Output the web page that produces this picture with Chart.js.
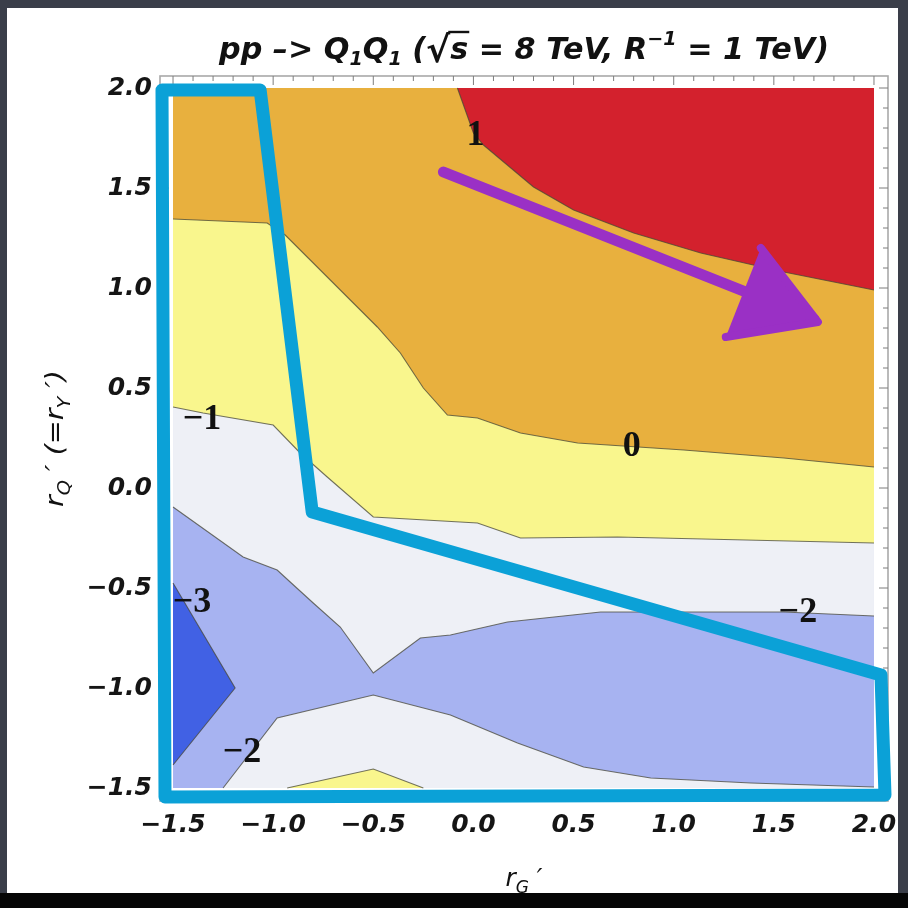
<!DOCTYPE html>
<html>
<head>
<meta charset="utf-8">
<script src="https://cdn.jsdelivr.net/npm/chart.js@4.4.0/dist/chart.umd.min.js"></script>
<style>
  html, body { margin: 0; padding: 0; width: 908px; height: 908px; overflow: hidden; background: #3a3e49; }
  #panel { position: absolute; left: 7px; top: 8px; width: 891px; height: 885px; background: #ffffff; }
  #foot { position: absolute; left: 0; top: 893px; width: 908px; height: 15px; background: #060606; }
  #plot { position: absolute; left: 0; top: 0; }
</style>
</head>
<body>
<div id="panel"></div>
<div id="foot"></div>
<canvas id="plot" width="908" height="908"></canvas>
<script>
// ---- axis values -------------------------------------------------------
const tickValues = [-1.5, -1.0, -0.5, 0.0, 0.5, 1.0, 1.5, 2.0];
const dataExtent = [-1.5, 2.0];          // range covered by the contour data
const xFrame = [-1.565, 2.07];           // frame range (with padding)
const yFrame = [-1.565, 2.06];

// ---- contour lines, [rG', rQ'] pairs ------------------------------------
const contourPlus1 = [[-0.08, 2.0], [0.0, 1.775], [0.05, 1.715], [0.30, 1.505], [0.50, 1.39],
  [0.80, 1.275], [1.135, 1.175], [1.55, 1.08], [2.0, 0.99]];
const contourZero = [[-1.5, 1.345], [-1.03, 1.325], [-0.94, 1.265], [-0.48, 0.805], [-0.365, 0.675],
  [-0.25, 0.50], [-0.13, 0.365], [0.02, 0.35], [0.235, 0.275], [0.52, 0.225], [1.05, 0.19],
  [1.55, 0.15], [2.0, 0.105]];
const contourMinus1 = [[-1.5, 0.405], [-1.35, 0.375], [-1.0, 0.315], [-0.865, 0.175], [-0.73, 0.055],
  [-0.5, -0.145], [0.02, -0.175], [0.235, -0.25], [0.72, -0.245], [2.0, -0.275]];
const contourMinus1Low = [[-0.93, -1.5], [-0.5, -1.405], [-0.25, -1.5]];
const contourMinus2 = [[-1.5, -0.095], [-1.15, -0.345], [-0.98, -0.41], [-0.915, -0.47], [-0.80, -0.575],
  [-0.665, -0.695], [-0.5, -0.925], [-0.265, -0.75], [-0.115, -0.735], [0.17, -0.67], [0.635, -0.62],
  [1.55, -0.62], [2.0, -0.64]];
const contourMinus2Low = [[-1.25, -1.5], [-0.98, -1.15], [-0.5, -1.035], [-0.115, -1.135], [0.22, -1.275],
  [0.55, -1.395], [0.885, -1.45], [1.385, -1.475], [2.0, -1.495]];
const contourMinus3 = [[-1.5, -0.475], [-1.19, -1.0], [-1.5, -1.385]];

// ---- contour level labels -----------------------------------------------
const contourLabels = [
  { text: '1', x: 0.01, y: 1.775 },
  { text: '0', x: 0.79, y: 0.22 },
  { text: '\u22121', x: -1.355, y: 0.355 },
  { text: '\u22122', x: 1.62, y: -0.61 },
  { text: '\u22123', x: -1.405, y: -0.56 },
  { text: '\u22122', x: -1.155, y: -1.31 }
];

// ---- hand-drawn annotations ----------------------------------------------
const highlightOutline = [[-1.555, 1.99], [-1.065, 1.99], [-0.805, -0.12], [2.035, -0.935],
  [2.055, -1.535], [-1.54, -1.545], [-1.555, 1.99]];
const arrowShaft = [[-0.15, 1.58], [1.70, 0.845]];
const arrowHead = [[1.435, 1.2], [1.72, 0.83], [1.26, 0.755]];

// ---- styling --------------------------------------------------------------
const bandColors = {
  above1: '#d3212d',
  from0to1: '#e8b03e',
  fromM1to0: '#f9f68d',
  fromM2toM1: '#eef0f6',
  fromM3toM2: '#a7b3f1',
  belowM3: '#4161e4'
};
const contourStroke = 'rgba(70,70,55,0.75)';
const outlineColor = '#0ba1d7';
const arrowColor = '#9a30c5';

const lo = dataExtent[0], hi = dataExtent[1];
const toXY = pts => pts.map(([x, y]) => ({ x, y }));
const upperCorners = [[hi, hi], [lo, hi]];

function band(label, pts, color) {
  return { label, data: toXY(pts), fill: 'shape', backgroundColor: color,
    borderColor: 'rgba(0,0,0,0)', borderWidth: 0, pointRadius: 0, tension: 0 };
}
function contour(label, pts) {
  return { label, data: toXY(pts), fill: false, borderColor: contourStroke,
    borderWidth: 1.1, pointRadius: 0, tension: 0 };
}

// painted from bottom to top
const layers = [
  band('band -3..-2', [[lo, lo], [hi, lo], [hi, hi], [lo, hi]], bandColors.fromM3toM2),
  band('band < -3', contourMinus3, bandColors.belowM3),
  band('band -2..-1 upper', contourMinus2.concat(upperCorners), bandColors.fromM2toM1),
  band('band -2..-1 lower', contourMinus2Low.concat([[hi, lo]]), bandColors.fromM2toM1),
  band('band -1..0 upper', contourMinus1.concat(upperCorners), bandColors.fromM1to0),
  band('band -1..0 lower', contourMinus1Low, bandColors.fromM1to0),
  band('band 0..1', contourZero.concat(upperCorners), bandColors.from0to1),
  band('band > 1', contourPlus1.concat([[hi, hi]]), bandColors.above1),
  contour('c1', contourPlus1),
  contour('c0', contourZero),
  contour('c-1', contourMinus1),
  contour('c-1 low', contourMinus1Low),
  contour('c-2', contourMinus2),
  contour('c-2 low', contourMinus2Low),
  contour('c-3', contourMinus3),
  { label: 'outline', data: toXY(highlightOutline), fill: false, borderColor: outlineColor,
    borderWidth: 13, borderJoinStyle: 'round', borderCapStyle: 'round', pointRadius: 0, tension: 0, clip: false },
  { label: 'arrow shaft', data: toXY(arrowShaft), fill: false, borderColor: arrowColor,
    borderWidth: 11, borderCapStyle: 'round', pointRadius: 0, tension: 0, clip: false },
  { label: 'arrow head', data: toXY(arrowHead), fill: 'shape', backgroundColor: arrowColor, borderColor: arrowColor,
    borderWidth: 8, borderJoinStyle: 'round', borderCapStyle: 'round', pointRadius: 0, tension: 0, clip: false }
];
const datasets = layers.map((d, i) => Object.assign({}, d, { order: layers.length - i }));

const fmtTick = v => (v < 0 ? '\u2212' : '') + Math.abs(v).toFixed(1);

// ---- rich text helper (sub/superscripts) -----------------------------------
function drawRich(ctx, parts, cx, baseline, fitWidth) {
  let w = 0;
  parts.forEach(p => { ctx.font = p.font; w += ctx.measureText(p.t).width; });
  const k = fitWidth ? fitWidth / w : 1;
  ctx.save();
  ctx.translate(cx - (w * k) / 2, baseline);
  ctx.scale(k, 1);
  let x = 0;
  parts.forEach(p => {
    ctx.font = p.font;
    ctx.fillText(p.t, x, p.dy || 0);
    const pw = ctx.measureText(p.t).width;
    if (p.over) {
      ctx.lineWidth = 2.4;
      ctx.beginPath();
      ctx.moveTo(x - 2, p.over);
      ctx.lineTo(x + pw + 1, p.over);
      ctx.stroke();
    }
    x += pw;
  });
  ctx.restore();
}

const framePlugin = {
  id: 'frame',
  beforeDatasetsDraw(chart) {
    const { ctx, chartArea: a, scales: { x, y } } = chart;
    ctx.save();
    ctx.strokeStyle = '#a9a9a9';
    ctx.lineWidth = 1.6;
    ctx.strokeRect(a.left, a.top, a.right - a.left, a.bottom - a.top);
    ctx.strokeStyle = '#7d7d7d';
    ctx.lineWidth = 1;
    ctx.beginPath();
    for (let i = 0; i <= 35; i++) {
      const v = lo + i * 0.1;
      const len = i % 5 === 0 ? 9 : 5;
      const px = x.getPixelForValue(v), py = y.getPixelForValue(v);
      ctx.moveTo(px, a.top); ctx.lineTo(px, a.top + len);
      ctx.moveTo(px, a.bottom); ctx.lineTo(px, a.bottom - len);
      ctx.moveTo(a.left, py); ctx.lineTo(a.left + len, py);
      ctx.moveTo(a.right, py); ctx.lineTo(a.right - len, py);
    }
    ctx.stroke();
    ctx.restore();
  }
};

const contourTextPlugin = {
  id: 'contourText',
  beforeDatasetDraw(chart, args) {
    if (chart.data.datasets[args.index].label !== 'outline') return;
    const { ctx, scales: { x, y } } = chart;
    ctx.save();
    ctx.font = 'bold 36px "Liberation Serif"';
    ctx.fillStyle = '#111111';
    ctx.textAlign = 'center';
    ctx.textBaseline = 'alphabetic';
    contourLabels.forEach(l => ctx.fillText(l.text, x.getPixelForValue(l.x), y.getPixelForValue(l.y) + 12));
    ctx.restore();
  }
};

const titlesPlugin = {
  id: 'titles',
  afterDraw(chart) {
    const { ctx, chartArea: a } = chart;
    const cx = (a.left + a.right) / 2;
    ctx.save();
    ctx.fillStyle = '#111111';
    ctx.strokeStyle = '#111111';
    ctx.textAlign = 'left';
    ctx.textBaseline = 'alphabetic';
    const F = 'italic bold 30px "DejaVu Sans"';
    const S = 'italic bold 19px "DejaVu Sans"';
    const R = 'italic bold 36px "DejaVu Sans"';
    drawRich(ctx, [
      { t: 'pp \u2013> Q', font: F },
      { t: '1', font: S, dy: 6 },
      { t: 'Q', font: F },
      { t: '1', font: S, dy: 6 },
      { t: ' (', font: F },
      { t: '\u221A', font: R, dy: 3 },
      { t: 's', font: F, over: -27 },
      { t: ' = 8 TeV, R', font: F },
      { t: '\u22121', font: S, dy: -14 },
      { t: ' = 1 TeV)', font: F }
    ], cx, 59, 610);

    const A = 'italic 25px "DejaVu Sans"';
    const AS = 'italic 17px "DejaVu Sans"';
    drawRich(ctx, [
      { t: 'r', font: A },
      { t: 'G', font: AS, dy: 7 },
      { t: ' \u2032', font: A }
    ], cx, 886);

    ctx.save();
    ctx.translate(63, (a.top + a.bottom) / 2);
    ctx.rotate(-Math.PI / 2);
    drawRich(ctx, [
      { t: 'r', font: A },
      { t: 'Q', font: AS, dy: 7 },
      { t: ' \u2032 (=r', font: A },
      { t: 'Y', font: AS, dy: 7 },
      { t: ' \u2032)', font: A }
    ], 0, 0, 137);
    ctx.restore();
    ctx.restore();
  }
};

const tickFont = { family: 'DejaVu Sans', size: 25, weight: 'bold', style: 'italic' };
const setTicks = s => { s.ticks = tickValues.map(v => ({ value: v })); };

new Chart(document.getElementById('plot'), {
  type: 'line',
  data: { datasets },
  options: {
    responsive: false,
    animation: false,
    devicePixelRatio: 1,
    layout: { padding: { top: 76, right: 20, bottom: 0, left: 0 } },
    scales: {
      x: {
        type: 'linear', min: xFrame[0], max: xFrame[1],
        afterBuildTicks: setTicks,
        afterFit: s => { s.height = 107; },
        grid: { display: false, drawTicks: false },
        border: { display: false },
        ticks: { font: tickFont, color: '#151515', padding: 9, maxRotation: 0, autoSkip: false, callback: fmtTick }
      },
      y: {
        type: 'linear', min: yFrame[0], max: yFrame[1],
        afterBuildTicks: setTicks,
        afterFit: s => { s.width = 160; },
        grid: { display: false, drawTicks: false },
        border: { display: false },
        ticks: { font: tickFont, color: '#151515', padding: 8, autoSkip: false, callback: fmtTick }
      }
    },
    plugins: {
      legend: { display: false },
      tooltip: { enabled: false },
      title: { display: false }
    }
  },
  plugins: [framePlugin, contourTextPlugin, titlesPlugin]
});
</script>
</body>
</html>
